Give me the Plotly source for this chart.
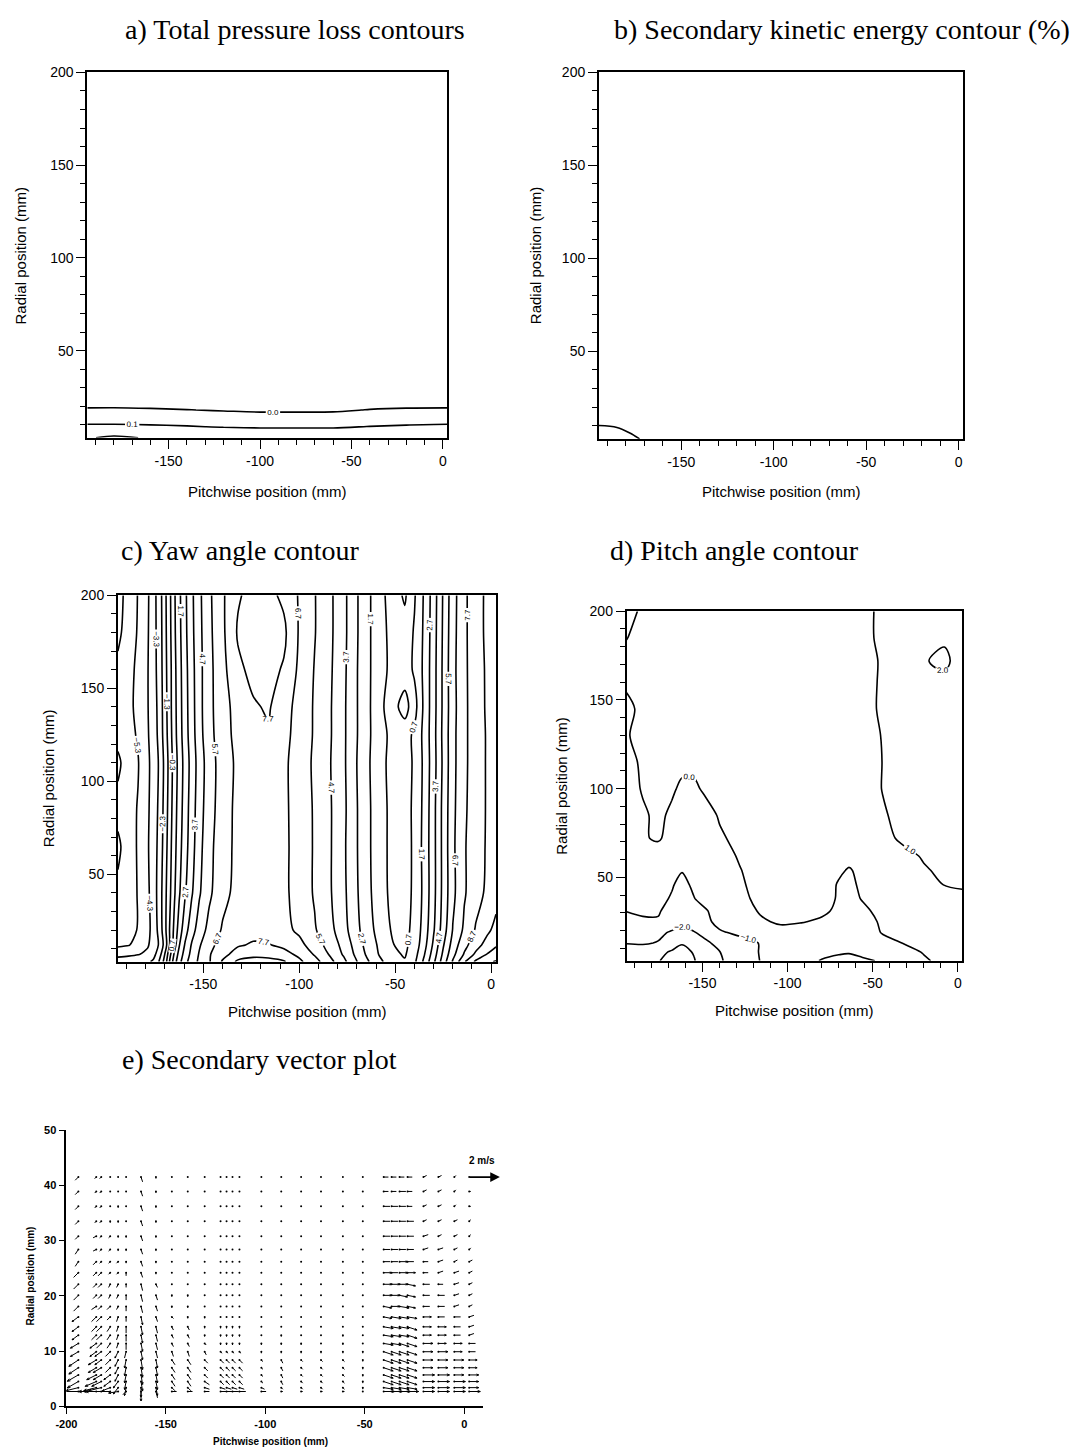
import math
import plotly.graph_objects as go

W, H = 1076, 1456

# ---------------- panel a: total pressure loss ----------------
LOSS_X = [-194.5, -180, -160, -140, -120, -100, -80, -60, -40, -20, 2.5]
LOSS_Y = [3, 6, 9, 12, 15, 18, 21, 25, 60, 200]
LOSS_Z = [
    [0.19, 0.22, 0.19, 0.18, 0.18, 0.18, 0.18, 0.18, 0.18, 0.18, 0.18],
    [0.15, 0.16, 0.15, 0.145, 0.14, 0.135, 0.135, 0.135, 0.14, 0.145, 0.15],
    [0.115, 0.115, 0.112, 0.105, 0.095, 0.09, 0.09, 0.09, 0.102, 0.11, 0.115],
    [0.08, 0.08, 0.075, 0.07, 0.06, 0.055, 0.055, 0.055, 0.065, 0.075, 0.08],
    [0.05, 0.05, 0.045, 0.04, 0.03, 0.02, 0.02, 0.02, 0.03, 0.045, 0.05],
    [0.012, 0.014, 0.008, 0.002, -0.006, -0.012, -0.012, -0.01, 0.003, 0.01, 0.012],
    [-0.02, -0.02, -0.02, -0.025, -0.03, -0.032, -0.035, -0.03, -0.025, -0.02, -0.02],
    [-0.04, -0.04, -0.04, -0.04, -0.04, -0.04, -0.04, -0.04, -0.04, -0.04, -0.04],
    [-0.05, -0.05, -0.05, -0.05, -0.05, -0.05, -0.05, -0.05, -0.05, -0.05, -0.05],
    [-0.05, -0.05, -0.05, -0.05, -0.05, -0.05, -0.05, -0.05, -0.05, -0.05, -0.05],
]

# ---------------- panel b: secondary kinetic energy (%) ----------------
SKE_X = [-194.5, -185, -175, -165, -100, 2.5]
SKE_Y = [3, 6, 9, 12, 50, 200]
SKE_Z = [
    [1.6, 1.45, 1.1, 0.7, 0.2, 0.2],
    [1.4, 1.3, 0.9, 0.5, 0.2, 0.2],
    [1.12, 1.02, 0.6, 0.35, 0.2, 0.2],
    [0.8, 0.7, 0.4, 0.25, 0.2, 0.2],
    [0.2, 0.2, 0.2, 0.2, 0.2, 0.2],
    [0.2, 0.2, 0.2, 0.2, 0.2, 0.2],
]

# ---------------- panel c: yaw angle ----------------
YAW_X = [-194.5, -189, -184, -179, -176, -173, -170, -167.5, -165, -162.5, -159.5, -156, -152,
         -147, -140, -132, -124, -116, -108, -100, -92, -84, -77, -71, -65, -58, -51, -45, -40,
         -35, -30, -25, -20, -14, -8, -2, 2.5]
YAW_Y = [3, 7, 12, 20, 40, 65, 85, 110, 125, 140, 160, 180, 200]
YAW_Z = [
    [-3.8, -3.7, -3.6, -3.45, -3.15, -2.25, -0.9, 0.8, 2.3, 3.4, 4.4, 5.2, 5.9, 6.6, 7.8, 8.9, 9.2, 9.1, 8.8, 7.9,
     7.1, 6.0, 5.0, 3.9, 2.9, 1.9, 1.1, 0.8, 1.5, 2.9, 4.5, 6.2, 7.8, 9.6, 10.9, 11.5, 11.8],
    [-4.6, -4.5, -4.35, -4.1, -3.6, -2.8, -1.25, 0.4, 1.9, 3.1, 4.1, 5.0, 5.8, 6.6, 7.4, 8.1, 8.35, 8.3, 8.0, 7.5,
     6.6, 5.6, 4.6, 3.6, 2.6, 1.6, 0.9, 0.6, 1.3, 2.6, 4.2, 5.9, 7.4, 8.8, 9.9, 10.75, 11.1],
    [-5.5, -5.35, -5.0, -4.4, -3.9, -3.2, -1.9, -0.25, 1.3, 2.65, 3.8, 4.8, 5.6, 6.4, 7.1, 7.6, 7.8, 7.75, 7.5, 7.0,
     6.2, 5.3, 4.4, 3.4, 2.4, 1.5, 0.72, 0.5, 1.1, 2.3, 3.9, 5.6, 7.1, 8.4, 9.3, 10.1, 10.6],
    [-5.95, -5.6, -5.25, -4.6, -3.9, -3.0, -1.6, -0.25, 1.0, 2.2, 3.3, 4.3, 5.2, 6.0, 6.8, 7.2, 7.4, 7.35, 7.0, 6.5,
     5.8, 5.0, 4.1, 3.1, 2.2, 1.3, 0.55, 0.4, 1.0, 2.1, 3.6, 5.2, 6.75, 7.9, 8.8, 9.5, 10.0],
    [-6.1, -5.7, -5.25, -4.5, -3.8, -2.9, -1.6, -0.5, 0.6, 1.6, 2.6, 3.6, 4.6, 5.5, 6.4, 7.0, 7.3, 7.4, 6.9, 6.3,
     5.6, 4.8, 3.95, 2.95, 2.05, 1.1, 0.4, 0.3, 0.9, 1.95, 3.4, 5.0, 6.45, 7.6, 8.3, 8.9, 9.3],
    [-6.5, -5.8, -5.2, -4.4, -3.8, -3.0, -1.8, -0.65, 0.4, 1.35, 2.3, 3.3, 4.4, 5.4, 6.3, 6.95, 7.3, 7.4, 6.9, 6.3,
     5.6, 4.8, 3.9, 2.9, 2.0, 1.05, 0.4, 0.25, 0.9, 2.0, 3.4, 5.0, 6.5, 7.6, 8.3, 8.8, 9.1],
    [-6.0, -5.6, -5.25, -4.45, -3.85, -3.1, -1.9, -0.8, 0.3, 1.2, 2.2, 3.2, 4.3, 5.25, 6.25, 6.95, 7.35, 7.5, 6.9, 6.25,
     5.6, 4.8, 3.95, 2.9, 2.0, 1.05, 0.4, 0.3, 0.9, 1.95, 3.4, 5.0, 6.45, 7.55, 8.2, 8.8, 9.15],
    [-6.5, -5.8, -5.35, -4.5, -3.9, -3.2, -2.0, -0.9, 0.2, 1.1, 2.1, 3.1, 4.2, 5.2, 6.2, 6.9, 7.35, 7.5, 6.9, 6.2,
     5.55, 4.75, 3.9, 2.85, 1.95, 1.0, 0.35, 0.25, 0.85, 1.9, 3.3, 4.9, 6.4, 7.5, 8.2, 8.8, 9.3],
    [-6.0, -5.6, -5.2, -4.4, -3.8, -3.05, -1.8, -0.75, 0.35, 1.25, 2.25, 3.25, 4.35, 5.35, 6.3, 7.0, 7.45, 7.6, 7.0, 6.3,
     5.6, 4.8, 3.9, 2.9, 2.0, 1.05, 0.4, 0.25, 0.9, 1.95, 3.35, 4.95, 6.4, 7.5, 8.2, 8.8, 9.2],
    [-5.9, -5.5, -5.1, -4.35, -3.75, -3.0, -1.75, -0.65, 0.4, 1.3, 2.3, 3.3, 4.4, 5.4, 6.35, 7.05, 7.6, 7.8, 7.1, 6.35,
     5.6, 4.8, 3.9, 2.9, 2.0, 1.0, 0.0, -0.7, 0.3, 1.9, 3.3, 4.9, 6.35, 7.5, 8.2, 8.85, 9.3],
    [-6.1, -5.6, -5.1, -4.35, -3.65, -2.95, -1.65, -0.65, 0.45, 1.35, 2.35, 3.35, 4.4, 5.4, 6.4, 7.5, 7.95, 8.0, 7.6, 6.5,
     5.65, 4.85, 3.95, 2.9, 2.0, 1.05, 0.4, 0.2, 0.85, 1.9, 3.3, 4.9, 6.4, 7.5, 8.25, 8.85, 9.25],
    [-6.5, -5.9, -5.2, -4.4, -3.65, -2.9, -1.6, -0.55, 0.55, 1.45, 2.45, 3.45, 4.45, 5.45, 6.5, 7.8, 8.1, 8.1, 7.9, 6.6,
     5.75, 4.9, 4.0, 2.95, 2.0, 1.05, 0.35, 0.1, 0.8, 1.85, 3.25, 4.85, 6.35, 7.5, 8.3, 8.9, 9.3],
    [-6.6, -6.0, -5.25, -4.45, -3.65, -2.85, -1.55, -0.5, 0.6, 1.5, 2.5, 3.5, 4.5, 5.5, 6.55, 7.6, 8.0, 7.95, 7.5, 6.6,
     5.75, 4.9, 4.0, 2.95, 2.0, 1.05, 0.15, -0.45, 0.6, 1.8, 3.2, 4.8, 6.3, 7.5, 8.3, 8.9, 9.3],
]

# ---------------- panel d: pitch angle ----------------
PITCH_X = [-194.5, -185, -176, -168, -162, -155, -148, -140, -128, -116, -104, -92, -80, -70, -64, -56,
           -44, -32, -20, -8, 2.5]
PITCH_Y = [3, 8, 13, 19, 25, 31, 38, 46, 54, 62, 72, 85, 100, 115, 130, 145, 160, 172, 185, 200]
PITCH_Z = [
    [-2.5, -2.7, -2.95, -3.3, -3.45, -3.05, -2.6, -2.1, -1.55, -0.98, -0.7, -0.8, -1.03, -1.1, -1.12, -1.06, -0.96, -0.5, -0.1, 0.2, 0.3],
    [-2.3, -2.5, -2.75, -3.1, -3.2, -2.95, -2.45, -2.02, -1.5, -0.95, -0.6, -0.65, -0.85, -0.95, -0.97, -0.9, -0.6, -0.25, 0.05, 0.3, 0.35],
    [-1.97, -1.9, -2.05, -2.5, -2.95, -2.7, -2.15, -1.75, -1.25, -0.97, -0.55, -0.45, -0.6, -0.75, -0.75, -0.65, -0.2, 0.02, 0.25, 0.4, 0.45],
    [-1.6, -1.65, -1.8, -2.1, -2.2, -2.05, -1.7, -1.08, -0.85, -0.5, -0.2, -0.25, -0.35, -0.5, -0.5, -0.35, 0.05, 0.2, 0.35, 0.5, 0.55],
    [-1.25, -1.1, -1.05, -1.5, -1.85, -1.5, -1.15, -0.8, -0.4, -0.08, 0.08, 0.03, -0.08, -0.25, -0.3, -0.2, 0.08, 0.25, 0.4, 0.55, 0.6],
    [-0.98, -0.9, -0.95, -1.2, -1.4, -1.25, -1.05, -0.75, -0.25, 0.05, 0.25, 0.2, 0.1, -0.1, -0.2, -0.1, 0.15, 0.3, 0.45, 0.6, 0.65],
    [-0.85, -0.8, -0.85, -1.05, -1.2, -1.02, -0.8, -0.5, -0.1, 0.1, 0.3, 0.3, 0.2, -0.05, -0.15, 0.03, 0.25, 0.4, 0.55, 0.7, 0.8],
    [-0.75, -0.7, -0.75, -0.95, -1.15, -0.9, -0.65, -0.4, -0.06, 0.15, 0.35, 0.4, 0.3, -0.05, -0.12, 0.1, 0.4, 0.6, 0.8, 1.02, 1.1],
    [-0.7, -0.6, -0.65, -0.85, -0.97, -0.8, -0.55, -0.3, -0.02, 0.2, 0.4, 0.45, 0.35, 0.1, -0.05, 0.15, 0.45, 0.7, 0.95, 1.1, 1.15],
    [-0.6, -0.5, -0.45, -0.65, -0.8, -0.7, -0.45, -0.2, 0.05, 0.25, 0.4, 0.45, 0.4, 0.25, 0.2, 0.35, 0.6, 0.85, 1.05, 1.2, 1.2],
    [-0.45, -0.08, 0.1, -0.3, -0.55, -0.5, -0.3, -0.08, 0.15, 0.3, 0.45, 0.5, 0.5, 0.45, 0.45, 0.55, 0.85, 1.1, 1.25, 1.3, 1.3],
    [-0.35, -0.08, 0.12, -0.1, -0.3, -0.35, -0.2, 0.05, 0.3, 0.45, 0.55, 0.6, 0.6, 0.6, 0.6, 0.7, 0.95, 1.15, 1.3, 1.4, 1.4],
    [-0.25, 0.05, 0.2, 0.08, -0.1, -0.1, 0.1, 0.3, 0.45, 0.55, 0.6, 0.65, 0.65, 0.65, 0.65, 0.75, 1.02, 1.2, 1.35, 1.45, 1.45],
    [-0.2, 0.1, 0.25, 0.3, 0.15, 0.15, 0.3, 0.4, 0.5, 0.55, 0.6, 0.65, 0.7, 0.7, 0.7, 0.8, 1.01, 1.2, 1.35, 1.45, 1.45],
    [-0.05, 0.2, 0.35, 0.4, 0.4, 0.4, 0.45, 0.45, 0.5, 0.55, 0.6, 0.65, 0.7, 0.75, 0.75, 0.85, 1.02, 1.2, 1.4, 1.5, 1.5],
    [-0.15, 0.15, 0.35, 0.45, 0.45, 0.45, 0.45, 0.5, 0.5, 0.55, 0.6, 0.65, 0.7, 0.75, 0.78, 0.85, 1.07, 1.25, 1.45, 1.6, 1.55],
    [0.1, 0.3, 0.4, 0.45, 0.45, 0.45, 0.5, 0.5, 0.55, 0.6, 0.62, 0.65, 0.7, 0.75, 0.78, 0.85, 1.06, 1.3, 1.55, 1.85, 1.6],
    [0.2, 0.35, 0.45, 0.5, 0.5, 0.5, 0.5, 0.5, 0.55, 0.6, 0.65, 0.7, 0.75, 0.8, 0.82, 0.88, 1.04, 1.35, 1.95, 2.15, 1.7],
    [-0.02, 0.25, 0.4, 0.45, 0.5, 0.5, 0.5, 0.5, 0.55, 0.6, 0.65, 0.7, 0.75, 0.8, 0.82, 0.9, 1.08, 1.35, 1.65, 1.9, 1.7],
    [-0.3, 0.15, 0.35, 0.45, 0.48, 0.5, 0.5, 0.5, 0.55, 0.6, 0.65, 0.7, 0.75, 0.8, 0.82, 0.9, 1.08, 1.3, 1.5, 1.6, 1.55],
]

# ---------------- panel e: secondary vectors (tenths of m/s) ----------------
VEC_X = [-194, -185, -182.5, -178, -174, -170, -162.5, -155, -147, -139, -130.5, -122.5, -119.5, -116.5,
         -113, -102, -92, -82, -72, -61, -51, -40.5, -36.5, -32.5, -28.5, -20.5, -13, -5, 2.5]
VEC_Y = [41.5, 38.9, 36.2, 33.5, 30.8, 28.4, 26.2, 24.2, 22.1, 20.1, 18.1, 16.2, 14.4, 12.9, 11.4,
         9.9, 8.4, 7.0, 5.7, 4.5, 3.4, 2.7]
VEC_U = [
    [-2, -1, -1, 0, 0, 0, 1, 0, 0, 0, 0, 0, 0, 0, 0, 0, 0, 0, 0, 0, 0, 3, 3, 3, 3, 2, 2, 1, 0],
    [-2, -1, -1, 0, 0, 0, 1, 0, 0, 0, 0, 0, 0, 0, 0, 0, 0, 0, 0, 0, 0, 3, 3, 4, 3, 2, 2, 1, 1],
    [-2, -1, -1, 0, 0, 0, 1, 0, 0, 0, 0, 0, 0, 0, 0, 0, 0, 0, 0, 0, 0, 4, 4, 4, 3, 2, 2, 1, 1],
    [-2, -1, -1, 0, 0, 0, 1, 0, 0, 0, 0, 0, 0, 0, 0, 0, 0, 0, 0, 0, 0, 4, 4, 4, 4, 2, 2, 2, 1],
    [-2, -2, -1, -1, 0, 0, 1, 0, 0, 0, 0, 0, 0, 0, 0, 0, 0, 0, 0, 0, 0, 4, 4, 4, 4, 3, 2, 2, 1],
    [-2, -2, -1, -1, 0, 0, 1, 0, 0, 0, 0, 0, 0, 0, 0, 0, 0, 0, 0, 0, 0, 4, 4, 4, 4, 3, 3, 2, 1],
    [-2, -2, -1, -1, -1, 0, 1, 0, 0, 0, 0, 0, 0, 0, 0, 0, 0, 0, 0, 0, 0, 4, 4, 5, 4, 3, 3, 2, 2],
    [-3, -2, -2, -1, -1, 0, 1, 0, 0, 0, 0, 0, 0, 0, 0, 0, 0, 0, 0, 0, 0, 5, 4, 5, 5, 3, 3, 3, 2],
    [-3, -2, -2, -1, -1, 0, 1, 1, 0, 0, 0, 0, 0, 0, 0, 0, 0, 0, 0, 0, 0, 5, 5, 5, 5, 4, 3, 3, 2],
    [-3, -2, -2, -1, -1, 0, 1, 1, 0, 0, 0, 0, 0, 0, 0, 0, 0, 0, 0, 0, 0, 5, 5, 5, 5, 4, 4, 3, 2],
    [-3, -3, -2, -2, -1, 0, 1, 1, 0, 0, 0, 0, 0, 0, 0, 0, 0, 0, 0, 0, 0, 5, 5, 6, 5, 4, 4, 3, 2],
    [-4, -3, -3, -2, -1, 0, 1, 1, 1, 0, 0, 0, 0, 0, 0, 0, 0, 0, 0, 0, 0, 5, 6, 6, 6, 5, 4, 4, 3],
    [-4, -3, -3, -2, -1, 0, 1, 1, 1, 1, 0, 0, 0, 0, 0, 0, 0, 0, 0, 0, 0, 6, 6, 6, 6, 5, 5, 4, 3],
    [-4, -3, -3, -2, -1, 0, 1, 1, 1, 1, 0, 0, 0, 0, 0, 0, 0, 0, 0, 0, 0, 6, 6, 6, 6, 5, 5, 4, 3],
    [-5, -4, -3, -2, -1, 0, 1, 1, 1, 1, 1, 0, 0, 0, 0, 0, 0, 0, 0, 0, 0, 6, 6, 6, 6, 6, 5, 5, 4],
    [-5, -4, -4, -3, -2, -1, 1, 1, 1, 1, 1, 1, 1, 1, 1, 0, 0, 0, 0, 0, 0, 6, 6, 6, 6, 6, 6, 5, 4],
    [-6, -5, -4, -3, -2, -1, 1, 1, 2, 2, 2, 2, 2, 2, 2, 1, 1, 1, 1, 1, 0, 6, 6, 6, 6, 6, 6, 6, 5],
    [-6, -5, -5, -3, -2, -1, 1, 1, 2, 2, 2, 2, 2, 2, 2, 1, 1, 1, 1, 1, 0, 6, 6, 6, 6, 6, 6, 6, 5],
    [-7, -6, -5, -4, -2, -1, 1, 1, 2, 2, 2, 2, 2, 2, 2, 1, 1, 1, 1, 1, 0, 6, 6, 6, 6, 7, 7, 6, 6],
    [-7, -7, -6, -4, -3, -1, 1, 1, 2, 2, 3, 2, 2, 2, 2, 1, 1, 1, 1, 1, 0, 6, 6, 6, 6, 7, 7, 7, 6],
    [-8, -8, -8, -5, -3, -1, 0, 1, 2, 2, 3, 3, 3, 3, 3, 2, 1, 1, 1, 1, 0, 6, 6, 6, 6, 7, 7, 7, 6],
    [-10, -8, -10, -20, -6, -2, 0, 1, 3, 3, 3, 4, 4, 4, 4, 3, 1, 1, 1, 1, 0, 7, 7, 7, 7, 7, 7, 7, 7],
]
VEC_V = [
    [-2, -1, -1, 0, 0, 0, -3, -1, 0, 0, 0, 0, 0, 0, 0, 0, 0, 0, 0, 0, 0, 0, 0, 0, 0, 1, 1, 1, 0],
    [-2, -1, -1, 0, 0, 0, -3, -1, 0, 0, 0, 0, 0, 0, 0, 0, 0, 0, 0, 0, 0, 0, 0, 0, 0, 1, 1, 1, 0],
    [-2, -1, -1, 0, -1, 0, -3, -1, 0, 0, 0, 0, 0, 0, 0, 0, 0, 0, 0, 0, 0, 0, 0, 0, 0, 1, 1, 1, 0],
    [-2, -1, -1, -1, -1, 0, -3, -1, 0, 0, 0, 0, 0, 0, 0, 0, 0, 0, 0, 0, 0, 0, 0, 0, 0, 1, 1, 1, 1],
    [-2, -1, -1, -1, -1, -1, -3, -1, 0, 0, 0, 0, 0, 0, 0, 0, 0, 0, 0, 0, 0, 0, 0, 0, 0, 1, 1, 1, 1],
    [-3, -1, -1, -1, -1, -1, -3, -1, 0, 0, 0, 0, 0, 0, 0, 0, 0, 0, 0, 0, 0, 0, 0, 0, 0, 1, 1, 1, 1],
    [-3, -2, -1, -1, -1, -1, -3, -1, 0, 0, 0, 0, 0, 0, 0, 0, 0, 0, 0, 0, 0, 0, 0, 0, 0, 0, 1, 1, 1],
    [-3, -2, -2, -1, -1, -2, -3, -1, 0, 0, 0, 0, 0, 0, 0, 0, 0, 0, 0, 0, 0, 0, 0, 0, 0, 0, 1, 1, 1],
    [-3, -2, -2, -2, -2, -2, -4, -2, 0, 0, 0, 0, 0, 0, 0, 0, 0, 0, 0, 0, 0, 0, 0, 0, -1, 0, 0, 1, 1],
    [-3, -2, -2, -2, -2, -3, -4, -3, -1, -1, 0, 0, 0, 0, 0, 0, 0, 0, 0, 0, 0, 0, 0, -1, -1, 0, 0, 1, 1],
    [-3, -2, -2, -2, -2, -3, -4, -3, -1, -1, 0, 0, 0, 0, 0, 0, 0, 0, 0, 0, 0, -1, 0, -1, -1, 0, 0, 1, 1],
    [-3, -3, -3, -2, -3, -3, -5, -3, -1, -1, -1, 0, 0, 0, 0, 0, 0, 0, 0, 0, 0, -1, -1, -1, -1, 0, 0, 0, 1],
    [-3, -3, -3, -3, -3, -4, -5, -4, -2, -2, -1, -1, -1, -1, -1, 0, 0, 0, 0, 0, 0, -1, -1, -1, -2, 0, 0, 0, 1],
    [-3, -3, -3, -3, -3, -4, -5, -4, -2, -2, -1, -1, -1, -1, -1, 0, -1, 0, 0, -1, 0, -1, -1, -1, -2, 0, 0, 0, 1],
    [-3, -3, -3, -3, -3, -4, -5, -4, -2, -2, -1, -1, -1, -1, -1, -1, -1, -1, 0, -1, 0, -1, -1, -2, -2, 0, 0, 0, 0],
    [-3, -3, -3, -3, -4, -4, -5, -4, -3, -3, -2, -1, -1, -1, -1, -1, -1, -1, -1, -1, -1, -2, -2, -2, -2, 0, 0, 0, 0],
    [-4, -3, -3, -3, -4, -5, -6, -5, -3, -3, -2, -2, -2, -2, -2, -1, -2, -1, -1, -1, -1, -2, -2, -2, -2, 0, 0, 0, 0],
    [-4, -3, -3, -3, -4, -5, -6, -5, -3, -3, -2, -2, -2, -2, -2, -1, -2, -1, -1, -1, -1, -2, -2, -2, -2, 0, 0, 0, 0],
    [-4, -3, -3, -3, -4, -5, -6, -5, -3, -3, -2, -2, -2, -2, -2, -1, -2, -1, -1, -1, -1, -2, -2, -2, -2, 0, 0, 0, 0],
    [-4, -3, -3, -3, -4, -5, -6, -5, -3, -3, -2, -2, -2, -2, -2, -1, -2, -1, -1, -1, -1, -2, -2, -2, -2, 0, 0, 0, 0],
    [-2, -2, -2, -2, -4, -5, -6, -5, -2, -2, -1, -1, -1, -1, -1, -1, -1, -1, -1, -1, -1, -1, -1, -1, -1, 0, 0, 0, 0],
    [0, 0, 0, 0, -1, -2, -6, -4, 0, 0, 0, 0, 0, 0, 0, 0, 0, 0, 0, 0, 0, 0, 0, 0, 0, 0, 0, 0, 0],
]
REF_SPEED = 2.0          # m/s, reference arrow
REF_POS = (2.0, 41.5)    # reference arrow tail (mm, mm)

# ---------------- axes / text ----------------
TITLES = ["a) Total pressure loss contours", "b) Secondary kinetic energy contour (%)",
          "c) Yaw angle contour", "d) Pitch angle contour", "e) Secondary vector plot"]
X_TITLE = "Pitchwise position (mm)"
Y_TITLE = "Radial position (mm)"
X_TICKS = [-150, -100, -50, 0]
X_TICK_TEXT = ["-150", "-100", "-50", "0"]
Y_TICKS = [50, 100, 150, 200]
Y_TICK_TEXT = ["50", "100", "150", "200"]
E_X_TICKS = [-200, -150, -100, -50, 0]
E_X_TICK_TEXT = ["-200", "-150", "-100", "-50", "0"]
E_Y_TICKS = [0, 10, 20, 30, 40, 50]
E_Y_TICK_TEXT = ["0", "10", "20", "30", "40", "50"]

# layout geometry (pixels: left, right, top, bottom)
BOXES = [(77, 441, 65, 434), (594, 962, 65, 435), (108, 490, 593, 963), (622, 961, 609, 962), (56, 477, 1133, 1412)]
XR = [-194.5, 2.5]
YR = [3, 200]
E_XR = [-200, 9.5]
E_YR = [0, 50]
TITLE_POS = [(287, 22), (840, 22), (232, 548), (731, 548), (251, 1062)]
XT_POS = [(259, 488), (778, 488), (299, 1013), (791, 1012), (262, 1447)]
YT_POS = [(10, 250), (530, 250), (38, 778), (556, 785), (20, 1280)]

SANS = "Liberation Sans, Arial, sans-serif"
SERIF = "Liberation Serif, Times New Roman, serif"

fig = go.Figure()


def contour(z, x, y, ax, start, end, size):
    fig.add_trace(go.Contour(
        x=x, y=y, z=z, xaxis="x" + ax, yaxis="y" + ax,
        contours=dict(coloring="lines", start=start, end=end, size=size, showlabels=True,
                      labelfont=dict(family=SANS, size=8, color="black"), labelformat=".1f"),
        colorscale=[[0, "black"], [1, "black"]], showscale=False,
        line=dict(width=1.6, smoothing=0.9), hoverinfo="skip"))


contour(LOSS_Z, LOSS_X, LOSS_Y, "", 0.0, 0.2, 0.1)
contour(SKE_Z, SKE_X, SKE_Y, "2", 1.0, 3.0, 1.0)
contour(YAW_Z, YAW_X, YAW_Y, "3", -6.3, 11.7, 1.0)
contour(PITCH_Z, PITCH_X, PITCH_Y, "4", -3.0, 2.0, 1.0)

# ---- vectors (panel e) ----
bx = BOXES[4]
ppx = (bx[1] - bx[0]) / (E_XR[1] - E_XR[0])   # px per mm (x)
ppy = (bx[3] - bx[2]) / (E_YR[1] - E_YR[0])   # px per mm (y)
REF_LEN_PX = 32.0                              # px drawn for REF_SPEED
px_per_ms = REF_LEN_PX / REF_SPEED

seg_x, seg_y, dot_x, dot_y = [], [], [], []
for i, yv in enumerate(VEC_Y):
    for j, xv in enumerate(VEC_X):
        u = VEC_U[i][j] / 10.0
        v = VEC_V[i][j] / 10.0
        dot_x.append(xv)
        dot_y.append(yv)
        lx, ly = u * px_per_ms, v * px_per_ms
        L = math.hypot(lx, ly)
        if L < 1.0:
            continue
        tx, ty = xv + lx / ppx, yv + ly / ppy
        seg_x += [xv, tx, None]
        seg_y += [yv, ty, None]
        if L >= 7.0:
            h = min(3.5, 0.25 * L)
            ang = math.atan2(ly, lx)
            for s in (1, -1):
                a2 = ang + math.pi + s * math.radians(22)
                seg_x += [tx, tx + h * math.cos(a2) / ppx, None]
                seg_y += [ty, ty + h * math.sin(a2) / ppy, None]

fig.add_trace(go.Scatter(x=dot_x, y=dot_y, mode="markers", xaxis="x5", yaxis="y5",
                         marker=dict(size=2, color="black"), hoverinfo="skip"))
fig.add_trace(go.Scatter(x=seg_x, y=seg_y, mode="lines", xaxis="x5", yaxis="y5",
                         line=dict(color="black", width=1.0), hoverinfo="skip"))


def dom_x(b):
    return [b[0] / W, b[1] / W]


def dom_y(b):
    return [1 - b[3] / H, 1 - b[2] / H]


def axis(b, which, rng, tv, tt, anchor, mirror, minor, font, ticklen):
    d = dict(domain=dom_x(b) if which == "x" else dom_y(b), range=rng, anchor=anchor,
             tickmode="array", tickvals=tv, ticktext=tt, showline=True, linecolor="black",
             linewidth=1.8, mirror=mirror, ticks="outside", ticklen=ticklen, tickwidth=1.4,
             tickcolor="black", showgrid=False, zeroline=False, tickfont=font, fixedrange=True)
    if minor:
        d["minor"] = dict(ticks="outside", ticklen=5, tickwidth=1.1, tickcolor="black",
                          tickmode="linear", tick0=0, dtick=10, showgrid=False)
    return d


tick_font = dict(family=SANS, size=14, color="black")
e_tick_font = dict(family=SANS, size=11, color="black", weight="bold")
layout_axes = {}
names = ["", "2", "3", "4"]
for k, n in enumerate(names):
    b = BOXES[k]
    layout_axes["xaxis" + n] = axis(b, "x", XR, X_TICKS, X_TICK_TEXT, "y" + n, True, True, tick_font, 9)
    layout_axes["yaxis" + n] = axis(b, "y", YR, Y_TICKS, Y_TICK_TEXT, "x" + n, True, True, tick_font, 9)
layout_axes["xaxis5"] = axis(BOXES[4], "x", E_XR, E_X_TICKS, E_X_TICK_TEXT, "y5", False, False, e_tick_font, 6)
layout_axes["yaxis5"] = axis(BOXES[4], "y", E_YR, E_Y_TICKS, E_Y_TICK_TEXT, "x5", False, False, e_tick_font, 6)

ann = []
for k in range(5):
    tx, ty = TITLE_POS[k]
    ann.append(dict(text=TITLES[k], x=tx / W, y=1 - ty / H, xref="paper", yref="paper",
                    xanchor="center", yanchor="middle", showarrow=False,
                    font=dict(family=SERIF, size=28, color="black")))
    small = k == 4
    f = dict(family=SANS, size=10 if small else 15, color="black", weight="bold" if small else "normal")
    xx, xy = XT_POS[k]
    ann.append(dict(text=X_TITLE, x=xx / W, y=1 - xy / H, xref="paper", yref="paper",
                    xanchor="center", yanchor="middle", showarrow=False, font=f))
    yx, yy = YT_POS[k]
    ann.append(dict(text=Y_TITLE, x=yx / W, y=1 - yy / H, xref="paper", yref="paper",
                    xanchor="center", yanchor="middle", showarrow=False, textangle=-90, font=f))

# reference arrow (2 m/s)
ref_tip = REF_POS[0] + REF_SPEED * px_per_ms / ppx
ann.append(dict(x=ref_tip, y=REF_POS[1], ax=REF_POS[0], ay=REF_POS[1], xref="x5", yref="y5",
                axref="x5", ayref="y5", text="", showarrow=True, arrowhead=2, arrowsize=1.2,
                arrowwidth=1.6, arrowcolor="black", standoff=0, startstandoff=0))
ann.append(dict(x=(REF_POS[0] + ref_tip) / 2 - 1, y=REF_POS[1] + 3, xref="x5", yref="y5",
                text="2 m/s", showarrow=False, xanchor="center", yanchor="middle",
                font=dict(family=SANS, size=10, color="black", weight="bold")))

fig.update_layout(width=W, height=H, margin=dict(l=0, r=0, t=0, b=0),
                  paper_bgcolor="white", plot_bgcolor="white", showlegend=False,
                  annotations=ann, **layout_axes)

fig.write_html("out.html")
